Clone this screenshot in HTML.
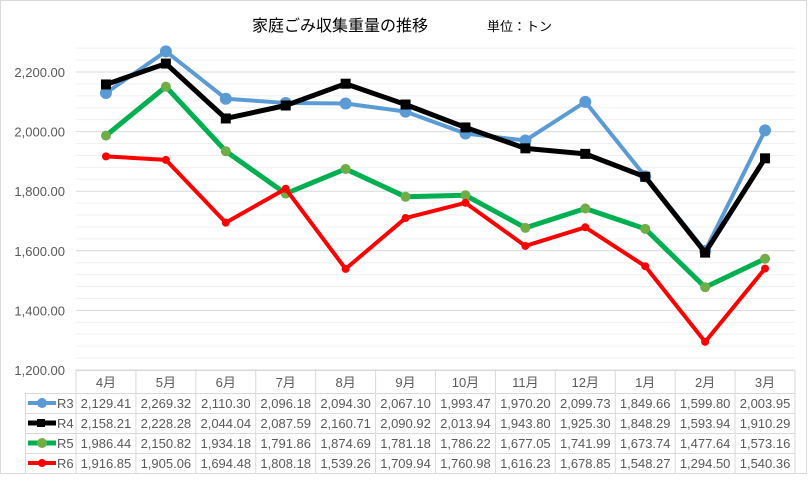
<!DOCTYPE html>
<html><head><meta charset="utf-8"><style>
body{margin:0;background:#fff;font-family:"Liberation Sans","Noto Sans CJK JP",sans-serif}
svg text{font-family:"Liberation Sans","Noto Sans CJK JP",sans-serif}
</style></head><body>
<svg id="c" width="809" height="475" xmlns="http://www.w3.org/2000/svg">
<rect x="0.5" y="0.5" width="806" height="473" fill="#fff" stroke="#d9d9d9"/>
<text x="340" y="31" font-size="16" text-anchor="middle" fill="#000">家庭ごみ収集重量の推移</text>
<text x="487" y="31" font-size="13" fill="#000">単位：トン</text>
<g id="grid"></g><g id="series"></g><g id="table"></g>
</svg>
<script>
const months=["4月","5月","6月","7月","8月","9月","10月","11月","12月","1月","2月","3月"];
const seriesNames=["R3","R4","R5","R6"];
const r3=[2129.41,2269.32,2110.30,2096.18,2094.30,2067.10,1993.47,1970.20,2099.73,1849.66,1599.80,2003.95];
const r4=[2158.21,2228.28,2044.04,2087.59,2160.71,2090.92,2013.94,1943.80,1925.30,1848.29,1593.94,1910.29];
const r5=[1986.44,2150.82,1934.18,1791.86,1874.69,1781.18,1786.22,1677.05,1741.99,1673.74,1477.64,1573.16];
const r6=[1916.85,1905.06,1694.48,1808.18,1539.26,1709.94,1760.98,1616.23,1678.85,1548.27,1294.50,1540.36];
const yTicks=[1200,1400,1600,1800,2000,2200];
const NS="http://www.w3.org/2000/svg";
const L=76,R=795,T0=370,yMin=1200,yMax=2200,pxTop=72;
const cw=(R-L)/months.length;
const x=i=>L+cw*(i+0.5);
const y=v=>T0-(v-yMin)*(T0-pxTop)/(yMax-yMin);
function mk(tag,attrs,parent){const e=document.createElementNS(NS,tag);for(const k in attrs)e.setAttribute(k,attrs[k]);parent.appendChild(e);return e;}
const grid=document.getElementById('grid');
for(let v=1200;v<=2280;v+=40){
 const ln=mk('line',{x1:L,x2:R,y1:y(v),y2:y(v),stroke:(v%200===0)?'#d9d9d9':'#f0f0f0','stroke-width':1},grid);
 
 
}
yTicks.forEach(v=>{
 const t=mk('text',{x:65,y:y(v)+5,'font-size':13,'text-anchor':'end',fill:'#595959'},grid);
 t.textContent=v.toLocaleString('en-US',{minimumFractionDigits:2});
 
 
});
const styles=[
 {d:r3,c:'#5b9bd5',w:4,m:'circle',mc:'#5b9bd5',ms:6},
 {d:r4,c:'#000000',w:5,m:'square',mc:'#000',ms:5},
 {d:r5,c:'#00b050',w:5,m:'circle',mc:'#70ad47',ms:5},
 {d:r6,c:'#ff0000',w:4,m:'circle',mc:'#ff0000',ms:4}];
const sg=document.getElementById('series');
styles.forEach((s,si)=>{
 const g=mk('g',{},sg);
 
 
 const p=mk('polyline',{points:s.d.map((v,i)=>x(i)+','+y(v)).join(' '),fill:'none',stroke:s.c,'stroke-width':s.w,'stroke-linejoin':'round'},g);
 
 
 s.d.forEach((v,i)=>{
  let e;
  if(s.m==='square') e=mk('rect',{x:x(i)-s.ms,y:y(v)-s.ms,width:2*s.ms,height:2*s.ms,fill:s.mc},g);
  else e=mk('circle',{cx:x(i),cy:y(v),r:s.ms,fill:s.mc},g);
  
  
 });
});
const tb=document.getElementById('table');
const rowTop=[370,393,413,433,453,473];
const lc='#d9d9d9';
for(let r=0;r<rowTop.length;r++){
 const ln=mk('line',{x1:r===0?L:25,x2:R,y1:rowTop[r]+0.5,y2:rowTop[r]+0.5,stroke:lc},tb);
 
 
}
mk('line',{x1:25.5,x2:25.5,y1:393,y2:473,stroke:lc},tb);
for(let i=0;i<=months.length;i++){
 const ln=mk('line',{x1:L+cw*i,x2:L+cw*i,y1:370,y2:473,stroke:lc},tb);
 
 
}
months.forEach((m,i)=>{
 const t=mk('text',{x:x(i),y:387,'font-size':13,'text-anchor':'middle',fill:'#595959'},tb);
 t.textContent=m;
 
 
});
styles.forEach((s,si)=>{
 const cy=rowTop[si+1]+10;
 mk('line',{x1:28,x2:56,y1:cy,y2:cy,stroke:s.c,'stroke-width':s.w},tb);
 if(s.m==='square') mk('rect',{x:37,y:cy-4,width:8,height:8,fill:s.mc},tb);
 else mk('circle',{cx:42,cy:cy,r:Math.min(s.ms,5),fill:s.mc},tb);
 const lt=mk('text',{x:57,y:cy+5,'font-size':13,fill:'#595959'},tb);
 lt.textContent=seriesNames[si];
 
 
 s.d.forEach((v,i)=>{
  const t=mk('text',{x:x(i),y:cy+5,'font-size':13,'text-anchor':'middle',fill:'#595959'},tb);
  t.textContent=v.toLocaleString('en-US',{minimumFractionDigits:2,maximumFractionDigits:2});
  
  
 });
});
</script>
</body></html>
